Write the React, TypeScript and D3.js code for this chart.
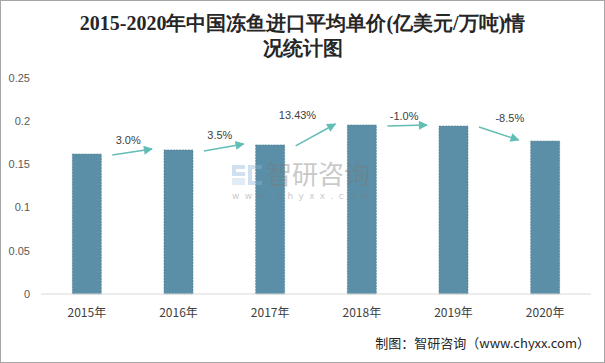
import React from "react";
import * as d3 from "d3";

const years = ["2015年", "2016年", "2017年", "2018年", "2019年", "2020年"];
const prices = [0.162, 0.1667, 0.1725, 0.1956, 0.1944, 0.177];
const growthLabels = ["3.0%", "3.5%", "13.43%", "-1.0%", "-8.5%"];
const yTicks = [0, 0.05, 0.1, 0.15, 0.2, 0.25];

const W = 605;
const H = 363;
const M = { TOP: 78, BOTTOM: 69, LEFT: 41, RIGHT: 14 };
// hand-placed label nudges, as in the original
const labelShift = [-4, -4, -18, -3, 11];

const App = () => {
  const x = d3
    .scaleBand()
    .domain(years)
    .range([M.LEFT, W - M.RIGHT])
    .paddingInner(0.684)
    .paddingOuter(0.342);

  const y = d3
    .scaleLinear()
    .domain([0, 0.25])
    .range([H - M.BOTTOM, M.TOP]);

  const arrowColor = "#62bdb4";
  const barColor = "#5b8fa7";

  const arrows = growthLabels.map((label, i) => {
    const x1 = (x(years[i]) || 0) + x.bandwidth() + 11;
    const x2 = (x(years[i + 1]) || 0) - 12;
    const y1 = y(prices[i]) + 1;
    const y2 = y(prices[i + 1]) - 1;
    return { label, x1, x2, y1, y2, i };
  });

  return (
    <svg
      width={W}
      height={H}
      style={{ position: "absolute", left: 0, top: 0, background: "#fff" }}
    >
      <defs>
        <marker
          id="arrowHead"
          viewBox="0 0 10 10"
          refX="9"
          refY="5"
          markerWidth="11"
          markerHeight="9"
          markerUnits="userSpaceOnUse"
          orient="auto"
        >
          <path d="M0,0 L10,5 L0,10 z" fill={arrowColor} />
        </marker>
      </defs>
      <rect x={0.5} y={0.5} width={W - 1} height={H - 1} fill="#fff" stroke="#a6a6a6" />

      <text
        x={W / 2}
        y={30}
        textAnchor="middle"
        fontFamily="'Liberation Serif', 'DejaVu Serif', serif"
        fontWeight="bold"
        fontSize={20}
        fill="#262626"
      >
        2015-2020年中国冻鱼进口平均单价(亿美元/万吨)情
      </text>
      <text
        x={W / 2}
        y={55}
        textAnchor="middle"
        fontFamily="'Liberation Serif', 'DejaVu Serif', serif"
        fontWeight="bold"
        fontSize={20}
        fill="#262626"
      >
        况统计图
      </text>

      {yTicks.map((t) => (
        <text
          key={t}
          x={30}
          y={y(t)}
          dy="0.35em"
          textAnchor="end"
          fontFamily="'Liberation Sans', Arial, sans-serif"
          fontSize={11}
          fill="#595959"
        >
          {t}
        </text>
      ))}

      {years.map((yr, i) => (
        <rect
          key={yr}
          x={x(yr)}
          y={y(prices[i])}
          width={x.bandwidth()}
          height={y(0) - y(prices[i])}
          fill={barColor}
          stroke="#4b7c94"
          strokeWidth={0.6}
          strokeDasharray="2,1"
        />
      ))}

      {/* watermark, over the bars */}
      <g opacity={0.4}>
        <path d="M232,165 h13 v4 h-9 v3 h9 v4 h-13 z" fill="#8fb2d6" />
        <path d="M232,178 h13 v7 h-13 z" fill="#b8cde3" />
        <path d="M248,165 h14 v4 h-10 v12 h10 v4 h-14 z" fill="#8fb2d6" />
        <text x={266} y={184} fontFamily="'Noto Sans CJK SC', sans-serif" fontSize={26} fill="#7a7a7a">
          智研咨询
        </text>
        <text x={232} y={199} fontFamily="'DejaVu Sans', sans-serif" fontSize={9} letterSpacing={5.3} fill="#7a7a7a">
          www.chyxx.com
        </text>
      </g>

      <line x1={M.LEFT} x2={W - M.RIGHT} y1={y(0)} y2={y(0)} stroke="#d9d9d9" />

      {years.map((yr) => (
        <text
          key={yr}
          x={(x(yr) || 0) + x.bandwidth() / 2}
          y={313}
          dy="0.35em"
          textAnchor="middle"
          fontFamily="'Noto Sans CJK SC', sans-serif"
          fontSize={12}
          fill="#404040"
        >
          {yr}
        </text>
      ))}

      {arrows.map((a) => (
        <g key={a.label}>
          <line
            x1={a.x1}
            y1={a.y1}
            x2={a.x2}
            y2={a.y2}
            stroke={arrowColor}
            strokeWidth={1.5}
            markerEnd="url(#arrowHead)"
          />
          <text
            x={(a.x1 + a.x2) / 2 + labelShift[a.i]}
            y={Math.min(a.y1, a.y2) - 9}
            dy="0.35em"
            textAnchor="middle"
            fontFamily="'Liberation Sans', Arial, sans-serif"
            fontSize={11}
            fill="#404040"
          >
            {a.label}
          </text>
        </g>
      ))}

      <text
        x={590}
        y={343}
        dy="0.35em"
        textAnchor="end"
        fontFamily="'Noto Sans CJK SC', sans-serif"
        fontSize={13}
        fill="#262626"
      >
        制图：智研咨询（www.chyxx.com）
      </text>
    </svg>
  );
};

export default App;
